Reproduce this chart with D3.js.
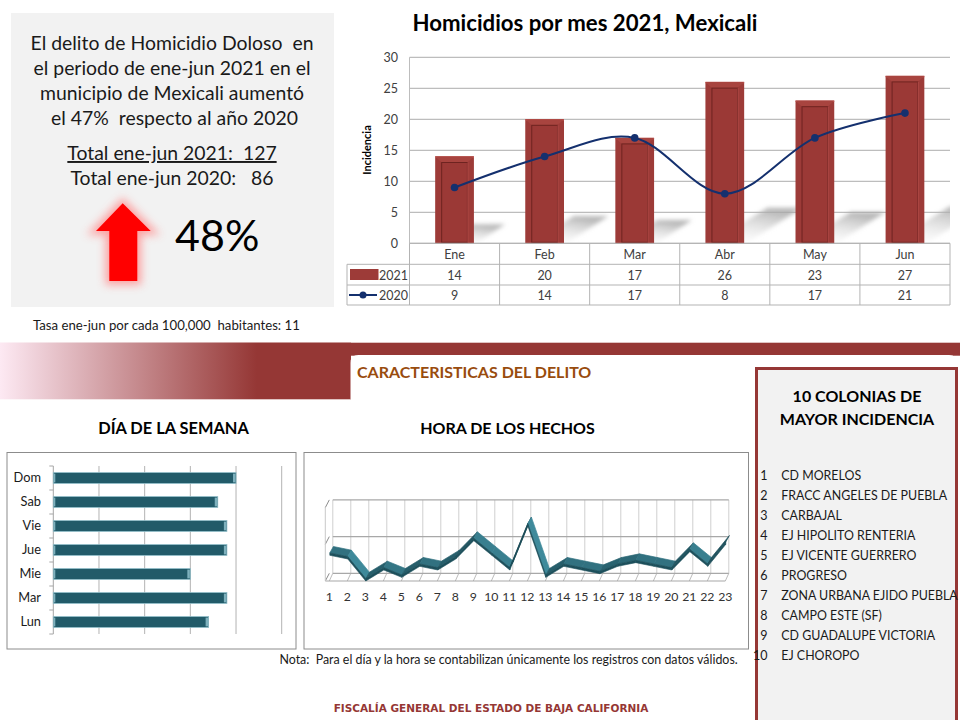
<!DOCTYPE html>
<html><head><meta charset="utf-8">
<script src="https://cdn.jsdelivr.net/npm/d3@7"></script>
<style>
body{margin:0;background:#fff;}
svg text{white-space:pre;}
</style></head>
<body><svg id="c" width="960" height="720"></svg>
<script>
// ---------- DATA ----------
const months = ["Ene","Feb","Mar","Abr","May","Jun"];
const homicidios2021 = [14,20,17,26,23,27];
const homicidios2020 = [9,14,17,8,17,21];
const yTicksMes = [0,5,10,15,20,25,30];
const seriesNames = ["2021","2020"];

const dias = ["Dom","Sab","Vie","Jue","Mie","Mar","Lun"];
const diasValores = [20,18,19,19,15,19,17];
const diasTicks = [0,5,10,15,20,25];

const horas = ["1","2","3","4","5","6","7","8","9","10","11","12","13","14","15","16","17","18","19","20","21","22","23"];
const horasValores = [7,6,0,3,1,4,3,6,11,7,3,15,1,4,3,2,4,5,4,3,8,4,10];
const horasTicks = [0,10,20];

const colonias = ["CD MORELOS","FRACC ANGELES DE PUEBLA","CARBAJAL","EJ HIPOLITO RENTERIA","EJ VICENTE GUERRERO","PROGRESO","ZONA URBANA EJIDO PUEBLA","CAMPO ESTE (SF)","CD GUADALUPE VICTORIA","EJ CHOROPO"];

const resumenLineas = ["El delito de Homicidio Doloso  en","el periodo de ene-jun 2021 en el","municipio de Mexicali aumentó"," el 47%  respecto al año 2020"];
const totales = ["Total ene-jun 2021:  127","Total ene-jun 2020:   86"];
const porcentaje = "48%";
const tasa = "Tasa ene-jun por cada 100,000  habitantes: 11";

// ---------- DRAW ----------
const svg = d3.select("#c");
const F = "Lato, 'Open Sans', sans-serif";
const defs = svg.append("defs");

// Left summary box
svg.append("rect").attr("x",11).attr("y",13).attr("width",323).attr("height",294).attr("fill","#f2f2f2");
resumenLineas.forEach((t,i)=>{
  svg.append("text").attr("x",172).attr("y",50+i*25).attr("text-anchor","middle")
    .attr("font-family",F).attr("font-size",19.4).attr("fill","#1a1a1a").text(t);
});
totales.forEach((t,i)=>{
  svg.append("text").attr("x",172).attr("y",160+i*25).attr("text-anchor","middle")
    .attr("font-family",F).attr("font-size",19.4).attr("fill","#1a1a1a")
    .attr("text-decoration", i===0 ? "underline" : null).text(t);
});
// arrow with glow
const glow = defs.append("filter").attr("id","glow").attr("x","-50%").attr("y","-50%").attr("width","200%").attr("height","200%");
glow.append("feGaussianBlur").attr("stdDeviation",4);
const arrowPts = [[122.7,203.3],[150.7,231],[137.3,231],[137.3,281],[109.3,281],[109.3,231],[96,231]];
svg.append("polygon").attr("points",arrowPts.map(p=>p.join(",")).join(" "))
  .attr("fill","#ff7b7b").attr("stroke","#ff8a8a").attr("stroke-width",8).attr("opacity",0.75).attr("filter","url(#glow)");
svg.append("polygon").attr("points",arrowPts.map(p=>p.join(",")).join(" ")).attr("fill","#ff0000");
svg.append("text").attr("x",175).attr("y",251).attr("font-family",F).attr("font-size",43).attr("fill","#000").text(porcentaje);
svg.append("text").attr("x",33).attr("y",330).attr("font-family",F).attr("font-size",13.2).attr("fill","#1a1a1a").text(tasa);

// ---------- Top chart ----------
const yT = d3.scaleLinear().domain([0,30]).range([243.3,57.3]);
const xT = d3.scaleBand().domain(months).range([409.5,950]);
const bw = xT.bandwidth()*0.43;
svg.append("text").attr("x",585).attr("y",31).attr("text-anchor","middle").attr("font-family",F)
  .attr("font-weight","bold").attr("font-size",22.2).attr("fill","#000").text("Homicidios por mes 2021, Mexicali");

svg.append("g").selectAll("line").data(yTicksMes).join("line")
  .attr("x1",409.5).attr("x2",950).attr("y1",d=>yT(d)).attr("y2",d=>yT(d))
  .attr("stroke","#bdbdbd").attr("stroke-width",1.2);
svg.append("line").attr("x1",409.5).attr("x2",409.5).attr("y1",yT(30)).attr("y2",yT(0)).attr("stroke","#bdbdbd");
svg.append("g").selectAll("text").data(yTicksMes).join("text")
  .attr("x",398).attr("y",d=>yT(d)+4.5).attr("text-anchor","end").attr("font-family",F)
  .attr("font-size",12.5).attr("fill","#404040").text(d=>d);
svg.append("text").attr("transform","translate(371,150) rotate(-90)").attr("text-anchor","middle")
  .attr("font-family",F).attr("font-weight","bold").attr("font-size",11).attr("fill","#000").text("Incidencia");

// shadows
const sg = defs.append("linearGradient").attr("id","shadowG").attr("x1",0).attr("y1",1).attr("x2",0.5).attr("y2",0);
sg.append("stop").attr("offset",0).attr("stop-color","#ffffff").attr("stop-opacity",0.1);
sg.append("stop").attr("offset",1).attr("stop-color","#a8a8a8").attr("stop-opacity",0.8);
const sblur = defs.append("filter").attr("id","sblur").attr("x","-30%").attr("y","-30%").attr("width","160%").attr("height","160%");
sblur.append("feGaussianBlur").attr("stdDeviation",2.2);
defs.append("clipPath").attr("id","plotClip").append("rect").attr("x",409.5).attr("y",50).attr("width",540.5).attr("height",193.3);
const shadowG = svg.append("g").attr("clip-path","url(#plotClip)");
months.forEach((m,i)=>{
  const xl = xT(m)+(xT.bandwidth()-bw)/2, xr = xl+bw, y0 = yT(0), h = y0-yT(homicidios2021[i]);
  const pts = [[xl+4,y0],[xr+2,y0],[xr+0.36*h,y0-0.22*h],[xl+4+0.36*h,y0-0.22*h]];
  shadowG.append("polygon").attr("points",pts.map(p=>p.join(",")).join(" "))
    .attr("fill","url(#shadowG)").attr("filter","url(#sblur)");
});
// bars
months.forEach((m,i)=>{
  const xl = xT(m)+(xT.bandwidth()-bw)/2, yv = yT(homicidios2021[i]), y0 = yT(0);
  const g = svg.append("g");
  g.append("rect").attr("x",xl).attr("y",yv).attr("width",bw).attr("height",y0-yv).attr("fill","#9d3b38");
  g.append("line").attr("x1",xl).attr("x2",xl+bw).attr("y1",yv+0.5).attr("y2",yv+0.5).attr("stroke","#c25a56").attr("stroke-width",1.5);
  g.append("polygon").attr("points",[[xl,yv],[xl+bw,yv],[xl+bw-6.5,yv+6],[xl+6.5,yv+6]].map(p=>p.join(",")).join(" ")).attr("fill","#a8443f");
  g.append("rect").attr("x",xl+6.5).attr("y",yv+6).attr("width",bw-13).attr("height",Math.max(0,y0-yv-7))
    .attr("fill","#9b3936").attr("stroke","#6e2320").attr("stroke-width",1);
  g.append("line").attr("x1",xl+bw-6).attr("x2",xl+bw-6).attr("y1",yv+6).attr("y2",y0-1).attr("stroke","#b04a46").attr("stroke-width",1);
});
// 2020 line
const cx = m => xT(m)+xT.bandwidth()/2;
const lineGen = d3.line().x((d,i)=>cx(months[i])).y(d=>yT(d)).curve(d3.curveCardinal);
svg.append("path").attr("d",lineGen(homicidios2020)).attr("fill","none").attr("stroke","#14306e").attr("stroke-width",2);
svg.append("g").selectAll("circle").data(homicidios2020).join("circle")
  .attr("cx",(d,i)=>cx(months[i])).attr("cy",d=>yT(d)).attr("r",3.8).attr("fill","#14306e");

// data table
const tblC = "#b3b3b3";
const rowsY = [243.3,264.3,285,305];
svg.append("line").attr("x1",409.5).attr("x2",950).attr("y1",rowsY[0]).attr("y2",rowsY[0]).attr("stroke",tblC);
[1,2,3].forEach(k=>svg.append("line").attr("x1",347).attr("x2",950).attr("y1",rowsY[k]).attr("y2",rowsY[k]).attr("stroke",tblC));
months.concat(["__end"]).forEach((m,i)=>{
  const x = i<months.length ? xT(m) : 950;
  svg.append("line").attr("x1",x).attr("x2",x).attr("y1",rowsY[0]).attr("y2",rowsY[3]).attr("stroke",tblC);
});
svg.append("line").attr("x1",347).attr("x2",347).attr("y1",rowsY[1]).attr("y2",rowsY[3]).attr("stroke",tblC);
months.forEach((m,i)=>{
  svg.append("text").attr("x",cx(m)).attr("y",258.5).attr("text-anchor","middle").attr("font-family",F).attr("font-size",12.5).attr("fill","#404040").text(m);
  svg.append("text").attr("x",cx(m)).attr("y",279.5).attr("text-anchor","middle").attr("font-family",F).attr("font-size",12.5).attr("fill","#404040").text(homicidios2021[i]);
  svg.append("text").attr("x",cx(m)).attr("y",300).attr("text-anchor","middle").attr("font-family",F).attr("font-size",12.5).attr("fill","#404040").text(homicidios2020[i]);
});
svg.append("rect").attr("x",350).attr("y",269).attr("width",28.5).attr("height",11).attr("fill","#9d3b38");
svg.append("line").attr("x1",349).attr("x2",377).attr("y1",295).attr("y2",295).attr("stroke","#14306e").attr("stroke-width",2);
svg.append("circle").attr("cx",363).attr("cy",295).attr("r",3.5).attr("fill","#14306e");
seriesNames.forEach((s,i)=>svg.append("text").attr("x",379).attr("y",279.5+i*20.5).attr("font-family",F).attr("font-size",12.5).attr("fill","#404040").text(s));

// ---------- Band ----------
const bg = defs.append("linearGradient").attr("id","bandG").attr("gradientUnits","userSpaceOnUse").attr("x1",0).attr("x2",257).attr("y1",0).attr("y2",0);
bg.append("stop").attr("offset",0).attr("stop-color","#fde9f3");
bg.append("stop").attr("offset",1).attr("stop-color","#953735");
svg.append("rect").attr("x",0).attr("y",342.7).attr("width",960).attr("height",13).attr("fill","url(#bandG)");
svg.append("rect").attr("x",0).attr("y",342.7).attr("width",351).attr("height",56.6).attr("fill","url(#bandG)");
svg.append("path").attr("d","M350.5,399.3 V363 Q350.5,355 358.5,355 H949 Q957,355 957,363 V399.3 Z").attr("fill","#fff");
svg.append("text").attr("x",357).attr("y",377.5).attr("font-family",F).attr("font-weight","bold").attr("font-size",16).attr("fill","#994c0e").text("CARACTERISTICAS DEL DELITO");
svg.append("text").attr("x",173.5).attr("y",434).attr("text-anchor","middle").attr("font-family",F).attr("font-weight","bold").attr("font-size",16.4).attr("fill","#000").text("DÍA DE LA SEMANA");
svg.append("text").attr("x",507.5).attr("y",434).attr("text-anchor","middle").attr("font-family",F).attr("font-weight","bold").attr("font-size",16).attr("fill","#000").text("HORA DE LOS HECHOS");

// ---------- Right box ----------
svg.append("rect").attr("x",756.5).attr("y",368.5).attr("width",200).attr("height",370).attr("fill","#f2f2f2").attr("stroke","#953735").attr("stroke-width",3);
svg.append("text").attr("x",857).attr("y",402).attr("text-anchor","middle").attr("font-family",F).attr("font-weight","bold").attr("font-size",16).attr("fill","#000").text("10 COLONIAS DE");
svg.append("text").attr("x",857).attr("y",425).attr("text-anchor","middle").attr("font-family",F).attr("font-weight","bold").attr("font-size",16).attr("fill","#000").text("MAYOR INCIDENCIA");
colonias.forEach((c,i)=>{
  svg.append("text").attr("x",767.5).attr("y",479.5+i*20).attr("text-anchor","end").attr("font-family",F).attr("font-size",12.5).attr("fill","#1a1a1a").text(i+1);
  svg.append("text").attr("x",781.3).attr("y",479.5+i*20).attr("font-family",F).attr("font-size",12.4).attr("fill","#1a1a1a").text(c);
});

// ---------- Day chart ----------
svg.append("rect").attr("x",7).attr("y",452.5).attr("width",289).attr("height",196.5).attr("fill","#fff").attr("stroke","#8c8c8c");
const xD = d3.scaleLinear().domain([0,25]).range([53.3,281.7]);
const yD = d3.scaleBand().domain(dias).range([466,634]).paddingInner(0.55).paddingOuter(0.275);
svg.append("g").selectAll("line").data(diasTicks.slice(1)).join("line")
  .attr("x1",d=>xD(d)).attr("x2",d=>xD(d)).attr("y1",466).attr("y2",634).attr("stroke","#b3b3b3");
svg.append("line").attr("x1",xD(0)).attr("x2",xD(0)).attr("y1",466).attr("y2",634).attr("stroke","#a6a6a6");
d3.range(dias.length+1).forEach(k=>{
  const y = 466 + k*yD.step();
  svg.append("line").attr("x1",xD(0)-4).attr("x2",xD(0)).attr("y1",y).attr("y2",y).attr("stroke","#a6a6a6");
});
const dayG = svg.append("g");
dias.forEach((d,i)=>{
  const y = yD(d), h = yD.bandwidth(), x1 = xD(diasValores[i]);
  dayG.append("rect").attr("x",xD(0)).attr("y",y).attr("width",x1-xD(0)).attr("height",h)
    .attr("fill","#225b69").attr("stroke","#8fbcc7").attr("stroke-width",0.8);
  dayG.append("rect").attr("x",x1-3).attr("y",y+1).attr("width",2.5).attr("height",h-2).attr("fill","#7eb1bd");
  dayG.append("rect").attr("x",xD(0)+0.5).attr("y",y+1).attr("width",1.5).attr("height",h-2).attr("fill","#7eb1bd");
  svg.append("text").attr("x",41).attr("y",y+h/2+4.3).attr("text-anchor","end").attr("font-family",F).attr("font-size",12.8).attr("fill","#1a1a1a").text(d);
});

// ---------- Hour chart ----------
svg.append("rect").attr("x",304).attr("y",452.5).attr("width",444.5).attr("height",196.5).attr("fill","#fff").attr("stroke","#8c8c8c");
const xH = d3.scalePoint().domain(horas).range([329.3,725.3]);
const yH = d3.scaleLinear().domain([0,20]).range([581,507.6]);
const dep = [3.5,-7.7];
horas.forEach(h=>{
  const x = xH(h);
  svg.append("line").attr("x1",x+dep[0]).attr("x2",x+dep[0]).attr("y1",yH(20)+dep[1]).attr("y2",yH(0)+dep[1]).attr("stroke","#cfcfcf");
  svg.append("line").attr("x1",x).attr("x2",x+dep[0]).attr("y1",yH(0)).attr("y2",yH(0)+dep[1]).attr("stroke","#bdbdbd");
});
horasTicks.forEach(t=>{
  svg.append("line").attr("x1",xH("1")+dep[0]).attr("x2",xH("23")+dep[0]).attr("y1",yH(t)+dep[1]).attr("y2",yH(t)+dep[1]).attr("stroke","#a8a8a8").attr("stroke-width",1.3);
  svg.append("line").attr("x1",xH("1")-4).attr("x2",xH("1")).attr("y1",yH(t)).attr("y2",yH(t)+dep[1]).attr("stroke","#8c8c8c");
});
svg.append("line").attr("x1",xH("1")-4).attr("x2",xH("23")).attr("y1",yH(0)).attr("y2",yH(0)).attr("stroke","#a8a8a8").attr("stroke-width",1.2);
svg.append("line").attr("x1",xH("1")-4).attr("x2",xH("1")-4).attr("y1",yH(20)).attr("y2",yH(0)).attr("stroke","#c8c8c8");
// ribbon
const rib = svg.append("g");
const rd = [3.6,-6.4], fh = 2.4;
const shade = d3.interpolateRgb("#3f8a9b","#133c46");
for(let i=0;i<horas.length-1;i++){
  const x0 = xH(horas[i])+0.5, x1 = xH(horas[i+1])+0.5;
  const y0 = yH(horasValores[i]), y1 = yH(horasValores[i+1]);
  const slope = (y0-y1)/(x1-x0);
  const t = Math.max(0,Math.min(1,0.38+slope*0.3));
  const top = [[x0,y0-fh],[x1,y1-fh],[x1+rd[0],y1-fh+rd[1]],[x0+rd[0],y0-fh+rd[1]]];
  const front = [[x0,y0],[x1,y1],[x1,y1-fh],[x0,y0-fh]];
  rib.append("polygon").attr("points",top.map(p=>p.join(",")).join(" ")).attr("fill",shade(t)).attr("stroke",shade(t)).attr("stroke-width",0.7).attr("stroke-linejoin","round");
  rib.append("polygon").attr("points",front.map(p=>p.join(",")).join(" ")).attr("fill","#1c4f5b").attr("stroke","#1c4f5b").attr("stroke-width",0.6);
}
horas.forEach(h=>{
  svg.append("text").attr("x",xH(h)).attr("y",600.5).attr("text-anchor","middle").attr("font-family",F).attr("font-size",12.3).attr("fill","#333").text(h);
});

// ---------- Notes ----------
svg.append("text").attr("x",279.5).attr("y",663.5).attr("font-family",F).attr("font-size",12.4).attr("fill","#1a1a1a").text("Nota:  Para el día y la hora se contabilizan únicamente los registros con datos válidos.");
svg.append("text").attr("x",491).attr("y",712).attr("text-anchor","middle").attr("font-family","'DejaVu Sans', sans-serif").attr("font-weight","bold").attr("font-size",10.5).attr("fill","#953735").text("FISCALÍA GENERAL DEL ESTADO DE BAJA CALIFORNIA");
</script></body></html>
